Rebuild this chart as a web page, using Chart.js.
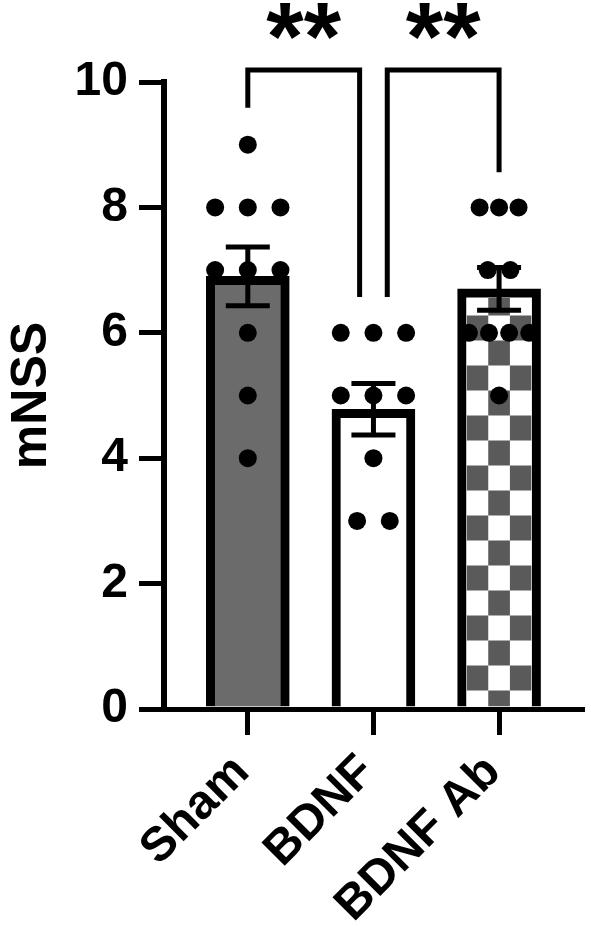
<!DOCTYPE html>
<html>
<head>
<meta charset="utf-8">
<script src="https://cdn.jsdelivr.net/npm/chart.js@4.4.1/dist/chart.umd.min.js"></script>
<style>
  html, body { margin: 0; padding: 0; background: #fff; }
</style>
</head>
<body>
<canvas id="chart" width="591" height="927"></canvas>
<script>
const categories = ['Sham', 'BDNF', 'BDNF Ab'];
const means = [6.9, 4.78, 6.7];
const sems = [0.47, 0.41, 0.34];
const yTicks = [0, 2, 4, 6, 8, 10];

// individual animals, with the horizontal spread used in the figure
const shamValues = [9, 8, 8, 8, 7, 7, 7, 6, 5, 4];
const shamOffsets = [0, -0.26, 0, 0.26, -0.26, 0, 0.26, 0, 0, 0];
const bdnfValues = [6, 6, 6, 5, 5, 5, 4, 3, 3];
const bdnfOffsets = [-0.26, 0, 0.26, -0.26, 0, 0.26, 0, -0.13, 0.13];
const bdnfAbValues = [8, 8, 8, 7, 7, 6, 6, 6, 6, 5];
const bdnfAbOffsets = [-0.155, 0, 0.155, -0.09, 0.09, -0.24, -0.08, 0.08, 0.24, 0];

// significance brackets (x in group index, y in mNSS units)
const brackets = [
  { x1: 0, x2: 0.89, y1: 9.59, y2: 6.57, top: 10.19, label: '**', labelY: 10.2 },
  { x1: 1.11, x2: 2, y1: 6.57, y2: 8.56, top: 10.19, label: '**', labelY: 10.2 }
];

const groups = [
  [shamValues, shamOffsets],
  [bdnfValues, bdnfOffsets],
  [bdnfAbValues, bdnfAbOffsets]
];
const points = [];
groups.forEach(([vals, offs], i) => {
  vals.forEach((v, j) => points.push({ x: i + offs[j], y: v }));
});

const font = (size) => ({ family: '"Liberation Sans", Arial, sans-serif', size: size, weight: 'bold' });

const extras = {
  id: 'extras',
  afterDatasetDraw(chart, args) {
    if (args.index !== 0) return;
    const ctx = chart.ctx;
    const yScale = chart.scales.y;
    const bars = args.meta.data;
    const bw = 9;

    // checkerboard fill of the last bar
    const b = bars[2];
    const left = b.x - b.width / 2 + bw;
    const right = b.x + b.width / 2 - bw;
    const top = b.y + bw;
    const bottom = b.base;
    const cw = (right - left) / 3;
    ctx.save();
    ctx.beginPath();
    ctx.rect(left, top, right - left, bottom - top);
    ctx.clip();
    ctx.fillStyle = '#5a5a5a';
    let rowBottom = bottom;
    let rowTop = bottom - 16;
    let r = 0;
    while (rowBottom > top) {
      if (r % 2 === 0) {
        ctx.fillRect(left + cw, rowTop, cw, rowBottom - rowTop);
      } else {
        ctx.fillRect(left, rowTop, cw, rowBottom - rowTop);
        ctx.fillRect(left + 2 * cw, rowTop, cw, rowBottom - rowTop);
      }
      rowBottom = rowTop;
      rowTop -= 25;
      r++;
    }
    ctx.restore();

    // error bars
    ctx.save();
    ctx.strokeStyle = '#000';
    ctx.lineWidth = 5;
    means.forEach((m, i) => {
      const px = bars[i].x;
      const hi = yScale.getPixelForValue(m + sems[i]);
      const lo = yScale.getPixelForValue(m - sems[i]);
      ctx.beginPath();
      ctx.moveTo(px, hi); ctx.lineTo(px, lo);
      ctx.moveTo(px - 22, hi); ctx.lineTo(px + 22, hi);
      ctx.moveTo(px - 22, lo); ctx.lineTo(px + 22, lo);
      ctx.stroke();
    });
    ctx.restore();
  },
  afterDraw(chart) {
    const ctx = chart.ctx;
    const xs = chart.scales.x, ys = chart.scales.y;
    ctx.save();
    ctx.strokeStyle = '#000';
    ctx.fillStyle = '#000';
    ctx.lineWidth = 5;
    ctx.lineJoin = 'miter';
    ctx.lineCap = 'butt';
    brackets.forEach(bk => {
      const x1 = xs.getPixelForValue(bk.x1), x2 = xs.getPixelForValue(bk.x2);
      ctx.beginPath();
      ctx.moveTo(x1, ys.getPixelForValue(bk.y1));
      ctx.lineTo(x1, ys.getPixelForValue(bk.top));
      ctx.lineTo(x2, ys.getPixelForValue(bk.top));
      ctx.lineTo(x2, ys.getPixelForValue(bk.y2));
      ctx.stroke();
      ctx.font = 'bold 96px "Liberation Sans", Arial, sans-serif';
      ctx.textAlign = 'center';
      ctx.textBaseline = 'alphabetic';
      ctx.fillText(bk.label, (x1 + x2) / 2, ys.getPixelForValue(bk.labelY));
    });
    ctx.restore();
  }
};

new Chart(document.getElementById('chart'), {
  data: {
    datasets: [
      {
        type: 'bar',
        data: means.map((m, i) => ({ x: i, y: m })),
        backgroundColor: ['#6b6b6b', '#ffffff', '#ffffff'],
        borderColor: '#000',
        borderWidth: 9,
        borderSkipped: 'start',
        barThickness: 83,
        order: 1
      },
      {
        type: 'scatter',
        data: points,
        pointRadius: 9,
        pointBackgroundColor: '#000',
        pointBorderWidth: 0,
        order: 0
      }
    ]
  },
  options: {
    responsive: false,
    animation: false,
    layout: { padding: { top: 82, right: 8, bottom: 0, left: 0 } },
    plugins: { legend: { display: false }, tooltip: { enabled: false } },
    scales: {
      x: {
        type: 'linear',
        offset: false,
        z: 1,
        min: -0.667,
        max: 2.66,
        afterBuildTicks: s => { s.ticks = categories.map((c, i) => ({ value: i })); },
        afterFit: s => { s.height = 218; },
        ticks: {
          callback: v => categories[v],
          font: font(48),
          color: '#000',
          minRotation: 45,
          maxRotation: 45,
          autoSkip: false,
          labelOffset: -6,
          padding: 9
        },
        grid: { offset: false, drawOnChartArea: false, color: '#000', lineWidth: 5, tickLength: 26 },
        border: { color: '#000', width: 5 }
      },
      y: {
        min: 0,
        max: 10,
        afterBuildTicks: s => { s.ticks = yTicks.map(v => ({ value: v })); },
        afterFit: s => { s.width = 164; },
        ticks: { font: font(48), color: '#000', padding: 11 },
        grid: { drawOnChartArea: false, color: '#000', lineWidth: 5, tickLength: 25 },
        border: { color: '#000', width: 6 },
        title: {
          display: true,
          text: 'mNSS',
          font: font(50),
          color: '#000',
          padding: { top: 2, bottom: 4 }
        }
      }
    }
  },
  plugins: [extras]
});
</script>
</body>
</html>
